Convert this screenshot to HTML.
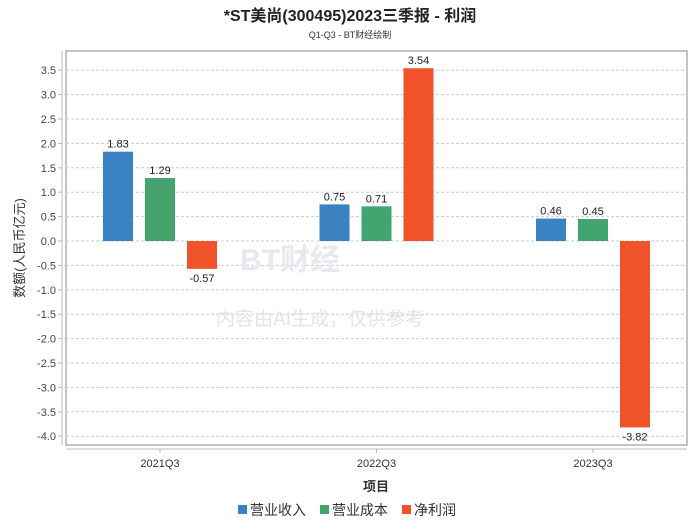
<!DOCTYPE html>
<html><head><meta charset="utf-8"><style>
body{margin:0;background:#fff;font-family:"Liberation Sans","Noto Sans CJK SC",sans-serif;}
</style></head><body>
<svg width="700" height="524" xmlns="http://www.w3.org/2000/svg" font-family="Liberation Sans, Noto Sans CJK SC, sans-serif">
<text x="350" y="21" text-anchor="middle" font-size="16" font-weight="bold" fill="#222">*ST美尚(300495)2023三季报 - 利润</text>
<text x="350" y="38" text-anchor="middle" font-size="9" fill="#333">Q1-Q3 - BT财经绘制</text>
<rect x="66" y="51" width="621" height="394" fill="none" stroke="#888"/>
<line x1="62" y1="51" x2="62" y2="445" stroke="#bbb"/>
<line x1="66" y1="449" x2="687" y2="449" stroke="#bbb"/>
<g id="grid"></g><g id="bars"></g>
<text x="240" y="270" font-size="30" font-weight="bold" fill="#e6e9ee">BT财经</text>
<text x="320" y="325" text-anchor="middle" font-size="19" fill="#e4e4e4">内容由AI生成，仅供参考</text>
<text transform="translate(24,248) rotate(-90)" text-anchor="middle" font-size="13" fill="#333">数额(人民币亿元)</text>
<text x="376" y="491" text-anchor="middle" font-size="13" font-weight="bold" fill="#333">项目</text>
<g font-size="14" fill="#333">
<rect x="238" y="505" width="9" height="9" fill="#3a82c0"/>
<text x="250" y="515">营业收入</text>
<rect x="320" y="505" width="9" height="9" fill="#43a46f"/>
<text x="332" y="515">营业成本</text>
<rect x="402" y="505" width="9" height="9" fill="#f0522a"/>
<text x="414" y="515">净利润</text>
</g>
</svg>
<script>
const categories=["2021Q3","2022Q3","2023Q3"];
const revenue=[1.83,0.75,0.46];
const cost=[1.29,0.71,0.45];
const profit=[-0.57,3.54,-3.82];
const yTicks=[3.5,3.0,2.5,2.0,1.5,1.0,0.5,0.0,-0.5,-1.0,-1.5,-2.0,-2.5,-3.0,-3.5,-4.0];
const NS="http://www.w3.org/2000/svg";
function y(v){return 241-v*48.8;}
function cx(i){return 160+i*216.5;}
const grid=document.getElementById('grid'),bars=document.getElementById('bars');
function mk(t,a,p){const e=document.createElementNS(NS,t);for(const k in a)e.setAttribute(k,a[k]);p.appendChild(e);return e;}
yTicks.forEach(v=>{
 const l=mk('line',{x1:66,x2:687,y1:y(v),y2:y(v),stroke:'#ccc','stroke-dasharray':'3,2'},grid);
 
 
 const tk=mk('line',{x1:58,x2:62,y1:y(v),y2:y(v),stroke:'#bbb'},grid);
 
 
 const t=mk('text',{x:56,y:y(v)+4,'text-anchor':'end','font-size':11,fill:'#444'},grid);
 t.textContent=v.toFixed(1);
 
 
});
const series=[[revenue,'#3a82c0',-42],[cost,'#43a46f',0],[profit,'#f0522a',42]];
categories.forEach((c,i)=>{
 const tk=mk('line',{x1:cx(i),x2:cx(i),y1:449,y2:453,stroke:'#bbb'},grid);
 
 
 const t=mk('text',{x:cx(i),y:467,'text-anchor':'middle','font-size':11,fill:'#333'},grid);
 t.textContent=c;
 
 
 series.forEach(([d,col,off])=>{
  const v=d[i],x=cx(i)+off-15,top=Math.min(y(v),y(0)),h=Math.abs(y(v)-y(0));
  const r=mk('rect',{x:x,y:top,width:30,height:h,fill:col},bars);
  
  
  const lt=mk('text',{x:x+15,y:v>=0?y(v)-4:y(v)+13,'text-anchor':'middle','font-size':11,fill:'#222'},bars);
  lt.textContent=v.toFixed(2);
  
  
 });
});
</script>
</body></html>
